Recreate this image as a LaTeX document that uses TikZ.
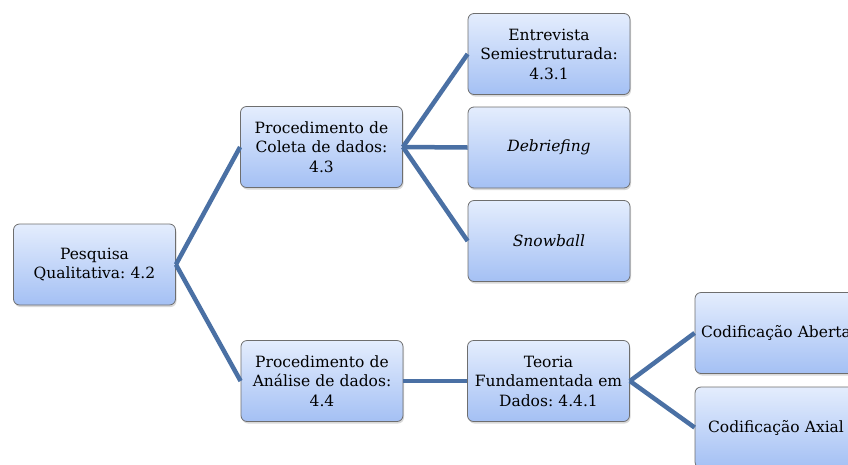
\documentclass[tikz,border=0pt]{standalone}
\usepackage{fontspec}
\setmainfont{DejaVu Serif}
\usetikzlibrary{shadows}
\definecolor{linkblue}{HTML}{4A70A4}
\definecolor{boxtop}{HTML}{E4EDFD}
\definecolor{boxbot}{HTML}{A4C0F4}
\definecolor{boxedge}{HTML}{6E6E6E}
\frenchspacing
\begin{document}
\begin{tikzpicture}[x=1pt,y=-1pt,
  box/.style={draw=boxedge, line width=0.8pt, rounded corners=6pt,
    top color=boxtop, bottom color=boxbot,
    minimum width=162pt, minimum height=81pt, inner sep=2pt,
    text width=158pt, align=center,
    font=\fontsize{15.5}{19.5}\selectfont,
    drop shadow={opacity=0.3, shadow xshift=1pt, shadow yshift=-2pt}},
  link/.style={draw=linkblue, line width=4.5pt}]
\useasboundingbox (0,0) rectangle (848,464);
\clip (0,0) rectangle (848,464);
\node[box] (p)  at (94.5,264.5) {Pesquisa\\Qualitativa: 4.2};
\node[box] (c)  at (321.5,147)  {Procedimento de\\Coleta de dados:\\4.3};
\node[box] (e)  at (549,54)     {Entrevista\\Semiestruturada:\\4.3.1};
\node[box] (d)  at (549,147.5)  {\itshape Debriefing};
\node[box] (s)  at (549,241)    {\itshape Snowball};
\node[box] (a)  at (322,381)    {Procedimento de\\Análise de dados:\\4.4};
\node[box] (t)  at (548.5,381)  {Teoria\\Fundamentada em\\Dados: 4.4.1};
\node[box] (ca) at (776,333)    {Codificação Aberta};
\node[box] (cx) at (776,427.5)  {Codificação Axial};
\draw[link] (p.east) -- (c.west);
\draw[link] (p.east) -- (a.west);
\draw[link] (c.east) -- (e.west);
\draw[link] (c.east) -- (d.west);
\draw[link] (c.east) -- (s.west);
\draw[link] (a.east) -- (t.west);
\draw[link] (t.east) -- (ca.west);
\draw[link] (t.east) -- (cx.west);
\end{tikzpicture}
\end{document}
